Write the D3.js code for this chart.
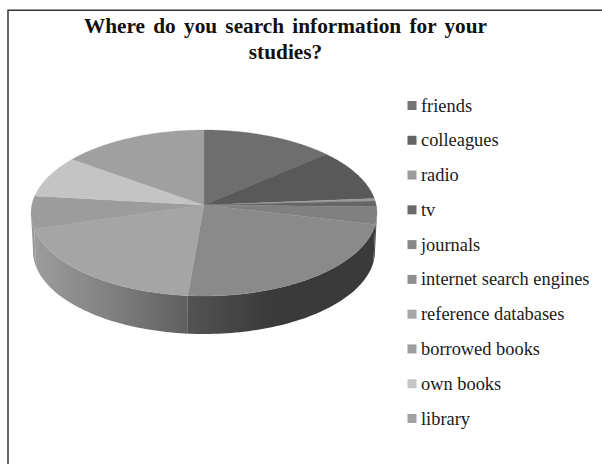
<!DOCTYPE html>
<html><head><meta charset="utf-8">
<script src="https://cdn.jsdelivr.net/npm/d3@7/dist/d3.min.js"></script>
<style>html,body{margin:0;padding:0;background:#fff}svg{display:block}</style>
</head><body><svg id="c" width="602" height="464"></svg>
<script>
const titleLines = ["Where do you search information for your", "studies?"];
const categories = ["friends","colleagues","radio","tv","journals","internet search engines","reference databases","borrowed books","own books","library"];
const shares = [12.5, 9.7, 0.5, 1.1, 3.4, 24.3, 20.4, 6.4, 7.9, 13.8];
const topColors = ["#6e6e6e","#595959","#9b9b9b","#666666","#808080","#8a8a8a","#a5a5a5","#9c9c9c","#c4c4c4","#a0a0a0"];
const legendColors = ["#747474","#646464","#9c9c9c","#6a6a6a","#888888","#8f8f8f","#a6a6a6","#9d9d9d","#c6c6c6","#a1a1a1"];

const svg = d3.select("#c");
svg.append("rect").attr("x",8).attr("y",10.25).attr("width",602).attr("height",500).attr("fill","#fff").attr("stroke","#333").attr("stroke-width",1.5);

const title = svg.append("g").attr("font-family","'Liberation Serif'").attr("font-weight","bold").attr("font-size",21.3).attr("text-anchor","middle").attr("fill","#111");
title.selectAll("text").data(titleLines).join("text").attr("x",285.5).attr("y",(d,i)=>32.5+i*26).attr("word-spacing",2.9).text(d=>d);

const x = d3.scaleLinear().domain([-1,1]).range([31,377]);
const y = d3.scaleLinear().domain([1,-1]).range([130,296]);
const xBot = d3.scaleLinear().domain([-1,1]).range([33,375]);
const yBot = d3.scaleLinear().domain([1,-1]).range([168,334]);
const apex = 0.096;
const line = d3.line();
const arcs = d3.pie().sort(null).value(d=>d)(shares);
const samples = (a0,a1)=>d3.range(0,61).map(i=>a0+(a1-a0)*i/60);

const defs = svg.append("defs");
const grad = (id,x1,x2,stops)=>{
  const g = defs.append("linearGradient").attr("id",id).attr("gradientUnits","userSpaceOnUse").attr("x1",x1).attr("x2",x2).attr("y1",0).attr("y2",0);
  stops.forEach(s=>g.append("stop").attr("offset",s[0]).attr("stop-color",s[1]));
};
grad("sideRef",33,188,[[0,"#9d9d9d"],[0.5,"#808080"],[1,"#5f5f5f"]]);
grad("sideNet",188,375,[[0,"#535353"],[0.45,"#3a3a3a"],[1,"#3a3a3a"]]);
grad("sideJour",360,376,[[0,"#3c3c3c"],[1,"#4f4f4f"]]);

const sideFill = {"internet search engines":"url(#sideNet)","reference databases":"url(#sideRef)","journals":"url(#sideJour)","borrowed books":"#9a9a9a"};
const sideData = arcs.filter(d=>sideFill[categories[d.index]]);
svg.append("g").selectAll("path").data(sideData).join("path")
  .attr("fill",d=>sideFill[categories[d.index]])
  .attr("d",d=>{
    const a0=Math.max(d.startAngle,Math.PI/2), a1=Math.min(d.endAngle,3*Math.PI/2);
    const s=samples(a0,a1);
    return line([...s.map(t=>[x(Math.sin(t)),y(Math.cos(t))]),...s.reverse().map(t=>[xBot(Math.sin(t)),yBot(Math.cos(t))])])+"Z";
  });

svg.append("g").selectAll("path").data(arcs).join("path")
  .attr("fill",d=>topColors[d.index]).attr("stroke",d=>topColors[d.index]).attr("stroke-width",0.3)
  .attr("d",d=>line([[x(0),y(apex)],...samples(d.startAngle,d.endAngle).map(t=>[x(Math.sin(t)),y(Math.cos(t))])])+"Z");

const ly = d3.scalePoint().domain(categories).range([106,419]);
const leg = svg.append("g").selectAll("g").data(categories).join("g").attr("transform",d=>`translate(0,${ly(d)})`);
leg.append("rect").attr("x",407.5).attr("y",-5).attr("width",9).attr("height",9).attr("fill",(d,i)=>legendColors[i]);
leg.append("text").attr("x",421).attr("y",5.5).attr("font-family","'Liberation Serif'").attr("font-size",18.4).attr("fill","#1a1a1a").text(d=>d);
</script></body></html>
